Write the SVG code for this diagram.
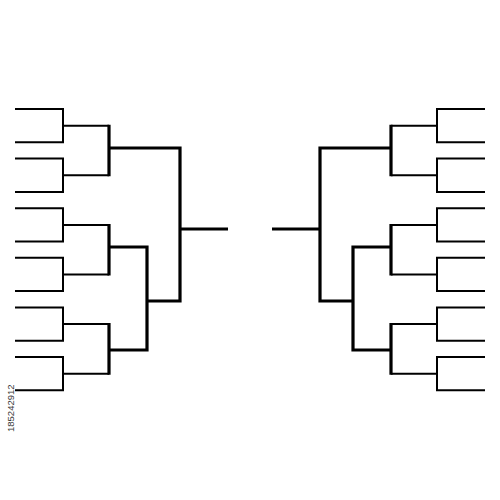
<svg xmlns="http://www.w3.org/2000/svg" width="500" height="500" viewBox="0 0 500 500">
  <style>
    .ln { fill: none; stroke: #000; stroke-linejoin: miter; stroke-linecap: butt; }
    .thin { stroke-width: 2; }
    .thick { stroke-width: 3.2; }
    .id { font-family: "Liberation Sans", Arial, sans-serif; font-size: 9.5px; fill: #3a3a3a; }
  </style>
  <defs>
    <g id="half">
      <!-- round 1 -->
      <path class="ln thin" d="M15,109 H63 V142.3 H15"/>
      <path class="ln thin" d="M15,158.6 H63 V191.9 H15"/>
      <path class="ln thin" d="M15,208.2 H63 V241.5 H15"/>
      <path class="ln thin" d="M15,257.8 H63 V291.1 H15"/>
      <path class="ln thin" d="M15,307.4 H63 V340.7 H15"/>
      <path class="ln thin" d="M15,357 H63 V390.3 H15"/>
      <!-- round 2 -->
      <path class="ln thin" d="M63,125.7 H109 M63,175.3 H109 M63,224.9 H109 M63,274.5 H109 M63,324.1 H109 M63,373.7 H109"/>
      <!-- round 2 joins -->
      <path class="ln thick" d="M109,124.7 V176.3 M109,223.9 V275.5 M109,323.1 V374.7"/>
      <!-- later rounds -->
      <path class="ln thick" d="M109,148 H180 V301 H147"/>
      <path class="ln thick" d="M109,247 H147 V350 H109"/>
      <path class="ln thick" d="M180,229 H228"/>
    </g>
  </defs>
  <g id="connectors">
    <g id="left-bracket"><use href="#half"/></g>
    <g id="right-bracket" transform="translate(500,0) scale(-1,1)"><use href="#half"/></g>
  </g>
  <text class="id" transform="translate(14,432) rotate(-90)">185242912</text>
</svg>
